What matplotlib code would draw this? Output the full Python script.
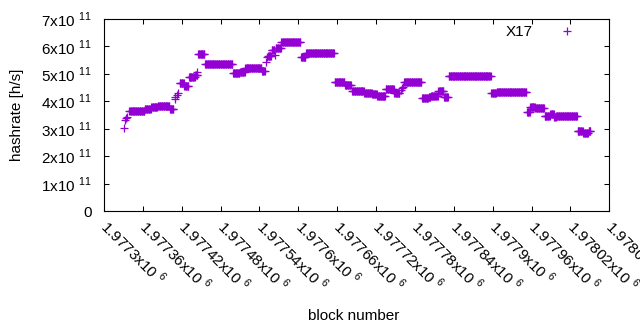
import matplotlib
matplotlib.use("Agg")
import matplotlib.pyplot as plt
import numpy as np

plt.rcParams['font.family'] = ['Liberation Sans', 'DejaVu Sans']
plt.rcParams['mathtext.fontset'] = 'custom'
plt.rcParams['mathtext.rm'] = 'Liberation Sans'

# hashrate per block, stored as runs of equal value (first block, last block, h/s)
seg_start = [1977331, 1977333, 1977334, 1977336, 1977339, 1977363, 1977373, 1977383,
             1977402, 1977409, 1977410, 1977412, 1977414, 1977417, 1977424, 1977431,
             1977441, 1977443, 1977445, 1977456, 1977499, 1977510, 1977518, 1977544,
             1977550, 1977552, 1977553, 1977559, 1977564, 1977565, 1977574, 1977604,
             1977612, 1977656, 1977672, 1977683, 1977702, 1977714, 1977722, 1977735,
             1977748, 1977756, 1977758, 1977760, 1977762, 1977763, 1977791, 1977801,
             1977805, 1977816, 1977825, 1977832, 1977898, 1977906, 1977953, 1977958,
             1977966, 1977980, 1977989, 1977995, 1977998, 1978031, 1978040, 1978048]
seg_end = [1977331, 1977333, 1977334, 1977336, 1977362, 1977372, 1977382, 1977401,
           1977407, 1977409, 1977410, 1977412, 1977414, 1977423, 1977430, 1977440,
           1977444, 1977443, 1977455, 1977498, 1977509, 1977517, 1977543, 1977548,
           1977550, 1977552, 1977558, 1977563, 1977564, 1977573, 1977603, 1977611,
           1977655, 1977671, 1977681, 1977701, 1977713, 1977721, 1977734, 1977747,
           1977755, 1977756, 1977758, 1977760, 1977762, 1977790, 1977800, 1977804,
           1977815, 1977824, 1977831, 1977897, 1977905, 1977952, 1977957, 1977965,
           1977979, 1977988, 1977994, 1977997, 1978030, 1978039, 1978047, 1978051]
seg_rate = [301e9, 332e9, 338e9, 344e9, 365e9, 372e9, 378e9, 382e9,
            372e9, 410e9, 417e9, 423e9, 429e9, 468e9, 456e9, 487e9,
            497e9, 505e9, 572e9, 535e9, 503e9, 508e9, 520e9, 509e9,
            545e9, 560e9, 566e9, 586e9, 570e9, 593e9, 615e9, 563e9,
            575e9, 470e9, 458e9, 436e9, 430e9, 427e9, 418e9, 444e9,
            429e9, 432e9, 440e9, 448e9, 452e9, 469e9, 411e9, 414e9,
            418e9, 437e9, 417e9, 494e9, 429e9, 435e9, 361e9, 380e9,
            374e9, 348e9, 352e9, 343e9, 348e9, 293e9, 283e9, 292e9]

blocks = np.concatenate([np.arange(s, e + 1) for s, e in zip(seg_start, seg_end)])
rates = np.concatenate([np.full(e - s + 1, r) for s, e, r in zip(seg_start, seg_end, seg_rate)])

xticks = [1977300 + 60 * i for i in range(14)]
yticks = [0, 1e11, 2e11, 3e11, 4e11, 5e11, 6e11, 7e11]

fig = plt.figure(figsize=(6.4, 3.3), dpi=100)
ax = fig.add_axes([0.1625, 0.3606, 0.952 - 0.1625, 0.9424 - 0.3606])

ax.plot(blocks, rates, '+', color='#9400D3', markersize=5.4, markeredgewidth=0.9,
        label='X17')

ax.set_xlim(1977300, 1978080)
ax.set_ylim(0, 7e11)

ax.set_xticks(xticks)
ax.set_xticklabels([f"{v/1e6:g}x10 $^{{\\mathregular{{6}}}}$" for v in xticks],
                   rotation=-45, ha='left', va='center', rotation_mode='anchor')
ax.set_yticks(yticks)
ax.set_yticklabels(['0'] + [f"{int(v/1e11)}x10 $^{{\\mathregular{{11}}}}$" for v in yticks[1:]])

ax.tick_params(direction='in', length=3.5, width=0.75, top=True, right=True,
               labelsize=11, colors='black')
ax.tick_params(axis='y', pad=9)
ax.tick_params(axis='x', pad=9)
for sp in ax.spines.values():
    sp.set_linewidth(0.8)

ax.set_ylabel('hashrate [h/s]', fontsize=11)
ax.yaxis.set_label_coords(-0.158, 0.5)
ax.set_xlabel('block number', fontsize=11)
ax.xaxis.set_label_coords(0.495, -0.51)

ax.legend(loc='upper right', frameon=False, markerfirst=False, fontsize=11,
          handlelength=2.0, handletextpad=1.25, borderaxespad=0.2,
          bbox_to_anchor=(0.965, 1.015))

fig.savefig('out.png', dpi=100)
